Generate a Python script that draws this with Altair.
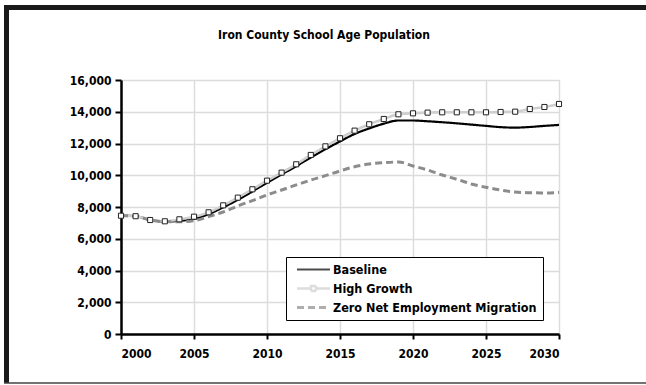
import altair as alt
import pandas as pd

years = list(range(2000, 2031))

baseline = [7450, 7420, 7180, 7080, 7130, 7250, 7550, 7980, 8450, 8980,
            9530, 10050, 10570, 11120, 11640, 12130, 12600, 12950, 13250, 13450,
            13450, 13400, 13340, 13270, 13190, 13110, 13030, 13000, 13040, 13110,
            13170]
high_growth = [7450, 7420, 7180, 7100, 7225, 7390, 7665, 8105, 8590, 9115,
               9660, 10165, 10690, 11280, 11820, 12330, 12810, 13210, 13545, 13840,
               13900, 13945, 13965, 13965, 13965, 13965, 13985, 14005, 14175, 14300,
               14490]
zero_net = [7450, 7420, 7180, 7080, 7075, 7140, 7390, 7685, 8065, 8400,
            8760, 9070, 9390, 9700, 9975, 10270, 10540, 10710, 10790, 10835,
            10585, 10330, 10015, 9745, 9450, 9240, 9070, 8945, 8900, 8885,
            8925]

series_names = ["Baseline", "High Growth", "Zero Net Employment Migration"]
x_ticks = [2000, 2005, 2010, 2015, 2020, 2025, 2030]
y_ticks = [0, 2000, 4000, 6000, 8000, 10000, 12000, 14000, 16000]
title_text = "Iron County School Age Population"

rows = []
for name, vals in zip(series_names, [baseline, high_growth, zero_net]):
    for yr, v in zip(years, vals):
        rows.append({"year": yr, "value": v, "series": name})
df = pd.DataFrame(rows)

FONT = "DejaVu Sans Condensed"
LABEL_SIZE = 12

axis_style = dict(title=None, domainColor="black", domainWidth=2.5,
                  tickColor="black", tickWidth=2, labelFont=FONT,
                  labelFontWeight="bold", labelFontSize=LABEL_SIZE,
                  labelColor="black", labelOverlap=False,
                  gridColor="#dcdcdc", gridWidth=1.5)

x_enc = alt.X("year:Q",
              scale=alt.Scale(domain=[2000, 2030], nice=False, zero=False),
              axis=alt.Axis(values=x_ticks, format="d", tickSize=5,
                            labelPadding=9, **axis_style))
y_enc = alt.Y("value:Q",
              scale=alt.Scale(domain=[0, 16000], nice=False),
              axis=alt.Axis(values=y_ticks, tickCount=len(y_ticks), format=",d",
                            tickSize=6, labelPadding=4, **axis_style))

legend = alt.Legend(title=None, orient="none", legendX=165, legendY=177,
                    strokeColor="black", fillColor="white", padding=6,
                    symbolSize=100, symbolStrokeWidth=2.5, rowPadding=4,
                    symbolOffset=15, labelOffset=13,
                    labelFont=FONT, labelFontWeight="bold", labelFontSize=12.5,
                    labelColor="black", labelLimit=400)

color = alt.Color("series:N",
                  scale=alt.Scale(domain=series_names,
                                  range=["black", "#cfcfcf", "#8c8c8c"]),
                  legend=legend)
dash = alt.StrokeDash("series:N",
                      scale=alt.Scale(domain=series_names,
                                      range=[[1, 0], [1, 0], [7, 4]]),
                      legend=legend)
# legend-only glyphs: a long stroke, with a small square for High Growth
shape = alt.Shape("series:N",
                  scale=alt.Scale(domain=series_names,
                                  range=["M-3.3,0H3.3",
                                         "M-3.3,0H-0.5M0.5,0H3.3M-0.5,-0.5H0.5V0.5H-0.5Z",
                                         "M-3.3,0H3.3"]),
                  legend=legend)
width_scale = alt.StrokeWidth("series:N",
                              scale=alt.Scale(domain=series_names, range=[2.2, 3, 2.8]),
                              legend=None)

lines = alt.Chart(df).mark_line(interpolate="monotone").encode(
    x=x_enc, y=y_enc, color=color, strokeDash=dash, strokeWidth=width_scale
)

markers = alt.Chart(df).transform_filter(
    alt.datum.series == "High Growth"
).mark_point(shape="square", filled=False, fill="white", stroke="#222",
             strokeWidth=1, opacity=1, size=26).encode(
    x=x_enc, y=y_enc
)

# off-scale rows that only feed the legend's shape channel
legend_src = pd.DataFrame({"year": [1990] * 3, "value": [-5000] * 3,
                           "series": series_names})
legend_feed = alt.Chart(legend_src).mark_point(clip=True, filled=False).encode(
    x=x_enc, y=y_enc, shape=shape
)

frame_src = pd.DataFrame({"k": [0]})
frame_left = alt.Chart(frame_src).mark_rule(color="#1a1a1a", strokeWidth=5).encode(
    x=alt.value(-114.5), y=alt.value(-75), y2=alt.value(303))
frame_top = alt.Chart(frame_src).mark_rule(color="#1a1a1a", strokeWidth=5).encode(
    x=alt.value(-117), x2=alt.value(525), y=alt.value(-72.5))
frame_bottom = alt.Chart(frame_src).mark_rule(color="#444", strokeWidth=1.5).encode(
    x=alt.value(-117), x2=alt.value(525), y=alt.value(303))

title = alt.Chart(frame_src).mark_text(
    font=FONT, fontWeight="bold", fontSize=12, color="black",
    align="center", baseline="middle"
).encode(x=alt.value(203), y=alt.value(-45), text=alt.value(title_text))

chart = alt.layer(
    lines, markers, legend_feed, frame_left, frame_top, frame_bottom, title
).properties(
    width=438, height=254,
    autosize=alt.AutoSizeParams(type="none"),
    padding={"left": 121, "top": 80, "right": 87, "bottom": 51},
).configure_view(
    stroke="#b0b0b0", strokeWidth=1.5
).configure(background="white")

chart.save("out.html", embed_options={"renderer": "svg", "actions": False})
